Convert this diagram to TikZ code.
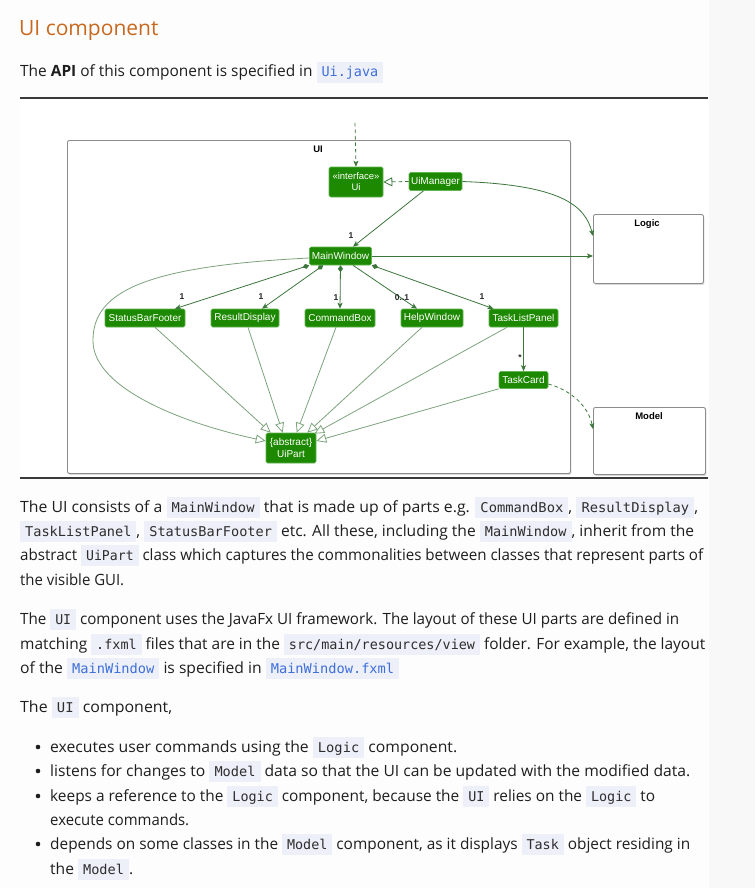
\documentclass[tikz,border=0pt]{standalone}
\usepackage{fontspec}
\usepackage{graphicx}
\setmainfont{Open Sans}
\setmonofont{DejaVu Sans Mono}
\newfontfamily\diagfont{Liberation Sans}
\usetikzlibrary{arrows.meta,calc,shadows}

\definecolor{pagebg}{HTML}{FDFDFD}
\definecolor{stripbg}{HTML}{F8F8F8}
\definecolor{headorange}{HTML}{C8681E}
\definecolor{bodytext}{HTML}{1E1E1E}
\definecolor{chipbg}{HTML}{EDEFF9}
\definecolor{chiptext}{HTML}{2E2E2E}
\definecolor{linkblue}{HTML}{3D6FD9}
\definecolor{rulecol}{HTML}{3A3A3A}
\definecolor{uigreen}{HTML}{1D8900}
\definecolor{uiborder}{HTML}{62B552}
\definecolor{assoc}{HTML}{3C763C}
\definecolor{inherit}{HTML}{7DA37D}
\definecolor{pkgline}{HTML}{8C8C8C}

\newcommand\bodyfont{\fontsize{15.5}{18}\selectfont}
\newcommand\chipbox[2]{{\setlength\fboxsep{0pt}\colorbox{chipbg}{\rule[-6pt]{0pt}{21pt}\hspace{5pt}{\ttfamily\fontsize{13.5}{16}\selectfont\color{#1}#2}\hspace{5pt}}}}
\newcommand\chip[1]{\chipbox{chiptext}{#1}}
\newcommand\linkchip[1]{\chipbox{linkblue}{#1}}
\newcommand\fitline[2]{\resizebox{#1}{\height}{#2}}

\begin{document}
\begin{tikzpicture}[x=1pt,y=-1pt,
  body/.style={anchor=base west, inner sep=0pt, font=\bodyfont, text=bodytext},
  dot/.style={circle, fill=bodytext, inner sep=0pt, minimum size=4.6pt},
  cls/.style={fill=uigreen, draw=uiborder, line width=0.6pt, rounded corners=1.5pt,
    text=white, font=\diagfont\fontsize{10}{11.5}\selectfont, inner sep=1pt,
    minimum height=18pt, align=center},
  pkg/.style={draw=pkgline, line width=0.9pt, rounded corners=2pt, fill=white,
    anchor=north west, drop shadow={shadow xshift=1pt, shadow yshift=-1.5pt, fill=black!30}},
  pkglabel/.style={font=\diagfont\bfseries\fontsize{9.5}{11}\selectfont, text=black, inner sep=0pt},
  mult/.style={font=\diagfont\bfseries\fontsize{8.5}{10}\selectfont, text=black!85, inner sep=0pt},
  assocline/.style={draw=assoc, line width=0.8pt},
  tip/.style={-{Stealth[length=6pt,width=5pt,inset=1.5pt]}},
  comp/.style={assocline, {Diamond[length=7pt,width=5pt]}-{Stealth[length=6pt,width=5pt,inset=1.5pt]}},
  inh/.style={draw=inherit, line width=0.8pt, -{Triangle[open,length=10pt,width=9pt,fill=white]}},
  dashline/.style={dash pattern=on 3.5pt off 3pt}
]
\useasboundingbox (0,0) rectangle (755,888);
\fill[pagebg] (0,0) rectangle (755,888);
\fill[stripbg] (709,0) rectangle (755,888);

% heading and intro line
\node[anchor=base west, inner sep=0pt, font=\fontsize{21}{26}\selectfont, text=headorange] (head) at (19,36) {UI component};
\node[body] (api) at (20,77) {\fitline{363pt}{The \textbf{API} of this component is specified in \linkchip{Ui.java}}};

% figure frame
\fill[white] (20,99) rectangle (708,477);
\draw[rulecol, line width=1.3pt] (20,98) -- (708,98);
\draw[rulecol, line width=1.3pt] (20,478) -- (708,478);

% packages
\node[pkg, minimum width=503pt, minimum height=333pt] (uipkg) at (67,140) {};
\node[pkg, minimum width=110pt, minimum height=69pt] (logic) at (593,214) {};
\node[pkg, minimum width=112pt, minimum height=67pt] (model) at (593,407) {};
\node[pkglabel] (uilbl) at (318,149) {UI};
\node[pkglabel] (logiclbl) at (647,224) {Logic};
\node[pkglabel] (modellbl) at (649,416) {Model};

% classes
\node[cls, minimum width=54pt, minimum height=30pt, font=\diagfont\fontsize{9.5}{11}\selectfont] (ui) at (356,182) {«interface»\\Ui};
\node[cls, minimum width=53pt] (uim) at (435.5,181.5) {UiManager};
\node[cls, minimum width=62pt] (mw) at (340.5,256) {MainWindow};
\node[cls, minimum width=80pt] (sbf) at (145,318) {StatusBarFooter};
\node[cls, minimum width=68pt] (rd) at (245,318) {ResultDisplay};
\node[cls, minimum width=70pt] (cb) at (340,318) {CommandBox};
\node[cls, minimum width=62pt] (hw) at (432,318) {HelpWindow};
\node[cls, minimum width=69pt] (tlp) at (523.5,318) {TaskListPanel};
\node[cls, minimum width=49pt, minimum height=17pt] (tc) at (523.5,380) {TaskCard};
\node[cls, minimum width=50pt, minimum height=30pt] (uip) at (291,448) {\{abstract\}\\UiPart};

% associations
\coordinate (ext) at (355,123);
\draw[assocline, dashline, tip] (ext) -- (ui.north);
\draw[assocline, dashline, -{Triangle[open,length=9pt,width=9pt,fill=white]}] (uim.west) -- (ui.east);
\draw[assocline, tip] ([xshift=-12pt]uim.south) -- ([xshift=12.5pt]mw.north);
\draw[assocline, tip] (uim.east) .. controls (560,185) and (585,205) .. ([yshift=-22pt]logic.north west);
\draw[assocline, tip] (mw.east) -- (mw.east -| logic.west);
\draw[comp] (mw.south west) -- ([xshift=30pt]sbf.north);
\draw[comp] ([xshift=14pt]mw.south west) -- ([xshift=17pt]rd.north);
\draw[comp] (mw.south) -- (cb.north);
\draw[assocline, tip] ([xshift=12.5pt]mw.south) -- ([xshift=-15pt]hw.north);
\draw[comp] (mw.south east) -- ([xshift=-30pt]tlp.north);
\draw[assocline, tip] (tlp.south) -- (tc.north);
\draw[assocline, dashline, tip] ([yshift=-4pt]tc.east) .. controls (570,390) and (588,405) .. ([yshift=-22pt]model.north west);

% multiplicities
\node[mult] (m0) at (351,236) {1};
\node[mult] (m1) at (182,297) {1};
\node[mult] (m2) at (261,297) {1};
\node[mult] (m3) at (336,298) {1};
\node[mult] (m4) at (402,298) {0..1};
\node[mult] (m5) at (482,297) {1};
\node[mult] (m6) at (520,358) {*};

% inheritance
\draw[inh] ([xshift=10pt]sbf.south) -- ([xshift=5pt]uip.north west);
\draw[inh] ([xshift=3pt]rd.south) -- ([xshift=17pt]uip.north west);
\draw[inh] ([xshift=-4pt]cb.south) -- ([xshift=31pt]uip.north west);
\draw[inh] ([xshift=-10pt]hw.south) -- ([xshift=-9pt]uip.north east);
\draw[inh] ([xshift=-16.5pt]tlp.south) -- ([xshift=-2pt,yshift=-1pt]uip.north east);
\draw[inh] (tc.south west) -- ([yshift=7pt]uip.east);
\draw[inh] ([yshift=-2pt]mw.west) .. controls (150,266) and (93,290) .. (93,340)
  .. controls (92,390) and (190,425) .. ([yshift=7pt]uip.west);

% description
\node[body] (p1a) at (20,512) {\fitline{678pt}{The UI consists of a \chip{MainWindow} that is made up of parts e.g. \chip{CommandBox}, \chip{ResultDisplay},}};
\node[body] (p1b) at (20,536) {\fitline{674pt}{\chip{TaskListPanel}, \chip{StatusBarFooter} etc. All these, including the \chip{MainWindow}, inherit from the}};
\node[body] (p1c) at (20,560) {\fitline{683pt}{abstract \chip{UiPart} class which captures the commonalities between classes that represent parts of}};
\node[body] (p1d) at (20,585.5) {\fitline{104pt}{the visible GUI.}};

\node[body] (p2a) at (20,624) {\fitline{659pt}{The \chip{UI} component uses the JavaFx UI framework. The layout of these UI parts are defined in}};
\node[body] (p2b) at (20,649) {\fitline{685pt}{matching \chip{.fxml} files that are in the \chip{src/main/resources/view} folder. For example, the layout}};
\node[body] (p2c) at (20,673) {\fitline{379pt}{of the \linkchip{MainWindow} is specified in \linkchip{MainWindow.fxml}}};

\node[body] (p3) at (20,712) {\fitline{152pt}{The \chip{UI} component,}};

\node[dot] (d1) at (38,747) {};
\node[dot] (d2) at (38,771) {};
\node[dot] (d3) at (38,796) {};
\node[dot] (d4) at (38,844) {};
\node[body] (b1) at (50,752) {\fitline{407pt}{executes user commands using the \chip{Logic} component.}};
\node[body] (b2) at (50,776) {\fitline{640pt}{listens for changes to \chip{Model} data so that the UI can be updated with the modified data.}};
\node[body] (b3) at (50,801) {\fitline{605pt}{keeps a reference to the \chip{Logic} component, because the \chip{UI} relies on the \chip{Logic} to}};
\node[body] (b3b) at (50,825) {\fitline{139pt}{execute commands.}};
\node[body] (b4) at (50,849) {\fitline{640pt}{depends on some classes in the \chip{Model} component, as it displays \chip{Task} object residing in}};
\node[body] (b4b) at (50,874) {\fitline{83pt}{the \chip{Model}.}};
\end{tikzpicture}
\end{document}
